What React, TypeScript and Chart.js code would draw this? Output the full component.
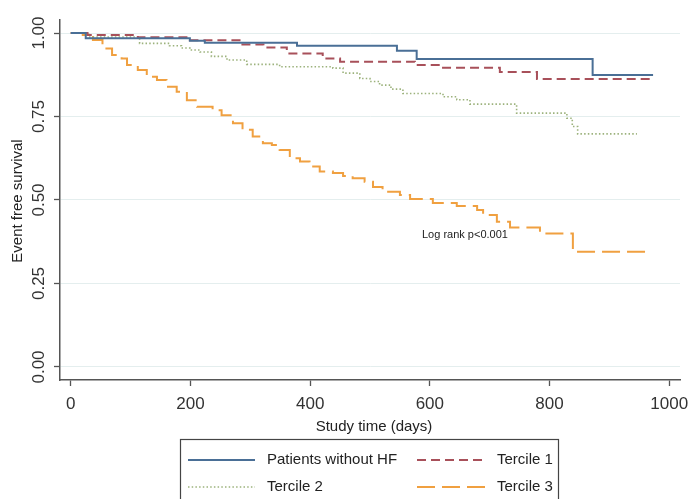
import React, { useEffect, useRef } from 'react';
import { Chart, registerables } from 'chart.js';

Chart.register(...registerables);

const FONT = '"Liberation Sans", Arial, Helvetica, sans-serif';

// Axis ticks
const xTickValues = [0, 200, 400, 600, 800, 1000];
const xTickLabels = ['0', '200', '400', '600', '800', '1000'];
const yTickValues = [0, 0.25, 0.5, 0.75, 1];
const yTickLabels = ['0.00', '0.25', '0.50', '0.75', '1.00'];

const xTitle = 'Study time (days)';
const yTitle = 'Event free survival';
const annotation = 'Log rank p<0.001';

const seriesNames = ['Patients without HF', 'Tercile 1', 'Tercile 2', 'Tercile 3'];

// Kaplan-Meier step curves (day of event, survival after event)
const noHfDays = [0, 25, 199, 224, 378, 545, 578, 872, 973];
const noHfSurv = [1.0, 0.984, 0.977, 0.971, 0.962, 0.947, 0.922, 0.874, 0.874];

const t1Days = [0, 28, 112, 199, 282, 322, 361, 421, 450, 575, 620, 717, 779, 973];
const t1Surv = [1.0, 0.994, 0.987, 0.978, 0.966, 0.957, 0.939, 0.924, 0.914, 0.904, 0.896, 0.883, 0.862, 0.862];

const t2Days = [0, 30, 115, 165, 185, 199, 216, 235, 261, 294, 349, 438, 455, 483, 500, 516, 535, 555, 622, 645, 667, 745, 829, 838, 847, 946];
const t2Surv = [1.0, 0.988, 0.969, 0.962, 0.955, 0.949, 0.943, 0.93, 0.919, 0.906, 0.899, 0.895, 0.88, 0.864, 0.855, 0.844, 0.832, 0.819, 0.809, 0.8, 0.787, 0.76, 0.745, 0.72, 0.698, 0.698];

const t3Days = [0, 20, 37, 53, 69, 85, 94, 112, 127, 144, 160, 177, 194, 211, 237, 252, 271, 287, 304, 321, 336, 349, 366, 383, 399, 416, 438, 455, 471, 491, 505, 521, 550, 567, 605, 645, 679, 689, 712, 734, 784, 839, 971];
const t3Surv = [1.0, 0.994, 0.979, 0.954, 0.934, 0.924, 0.904, 0.889, 0.869, 0.859, 0.839, 0.824, 0.799, 0.779, 0.769, 0.754, 0.73, 0.71, 0.69, 0.67, 0.665, 0.65, 0.625, 0.615, 0.6, 0.585, 0.581, 0.572, 0.565, 0.555, 0.539, 0.525, 0.515, 0.503, 0.491, 0.482, 0.47, 0.455, 0.435, 0.418, 0.4, 0.345, 0.345];

const seriesColors = ['#4a6f96', '#a8505a', '#9cb27c', '#f0a040'];

function toPoints(days: number[], surv: number[]) {
  return days.map((d, i) => ({ x: d, y: surv[i] }));
}

const overlayPlugin = {
  id: 'overlay',
  afterDraw(chart: any) {
    const ctx = chart.ctx as CanvasRenderingContext2D;
    const xs = chart.scales.x;
    const ys = chart.scales.y;
    ctx.save();
    ctx.fillStyle = '#333';

    // y tick labels (rotated)
    ctx.font = `17px ${FONT}`;
    ctx.textAlign = 'center';
    ctx.textBaseline = 'middle';
    yTickValues.forEach((v, i) => {
      const py = ys.getPixelForValue(v);
      ctx.save();
      ctx.translate(39, py);
      ctx.rotate(-Math.PI / 2);
      ctx.fillText(yTickLabels[i], 0, 0);
      ctx.restore();
    });

    // x tick labels
    xTickValues.forEach((v, i) => {
      const px = xs.getPixelForValue(v);
      ctx.fillText(xTickLabels[i], px, 404);
    });

    // axis titles
    ctx.font = `15px ${FONT}`;
    ctx.fillStyle = '#222';
    ctx.fillText(xTitle, 374, 427);
    ctx.save();
    ctx.translate(18, 201);
    ctx.rotate(-Math.PI / 2);
    ctx.fillText(yTitle, 0, 0);
    ctx.restore();

    // annotation
    ctx.font = `11px ${FONT}`;
    ctx.textAlign = 'left';
    ctx.fillStyle = '#222';
    ctx.fillText(annotation, 422, 235);

    // legend box
    ctx.strokeStyle = '#444';
    ctx.lineWidth = 1.2;
    ctx.strokeRect(180.5, 439.5, 378, 80);

    const slots = [
      { x1: 188, x2: 255, tx: 267, y: 460 },
      { x1: 417, x2: 485, tx: 497, y: 460 },
      { x1: 188, x2: 255, tx: 267, y: 487 },
      { x1: 417, x2: 485, tx: 497, y: 487 },
    ];
    ctx.font = `15px ${FONT}`;
    ctx.textBaseline = 'middle';
    chart.data.datasets.forEach((ds: any, i: number) => {
      const s = slots[i];
      ctx.save();
      ctx.strokeStyle = ds.borderColor;
      ctx.lineWidth = ds.borderWidth;
      ctx.setLineDash(ds.borderDash || []);
      ctx.beginPath();
      ctx.moveTo(s.x1, s.y);
      ctx.lineTo(s.x2, s.y);
      ctx.stroke();
      ctx.restore();
      ctx.fillStyle = '#222';
      ctx.fillText(seriesNames[i], s.tx, s.y);
    });
    ctx.restore();
  },
};

export default function App() {
  const canvasRef = useRef<HTMLCanvasElement | null>(null);

  useEffect(() => {
    if (!canvasRef.current) return;
    const chart = new Chart(canvasRef.current, {
      type: 'line',
      data: {
        datasets: [
          {
            label: seriesNames[0],
            data: toPoints(noHfDays, noHfSurv),
            borderColor: seriesColors[0],
            borderWidth: 2,
            borderDash: [],
          },
          {
            label: seriesNames[1],
            data: toPoints(t1Days, t1Surv),
            borderColor: seriesColors[1],
            borderWidth: 2,
            borderDash: [9, 5],
          },
          {
            label: seriesNames[2],
            data: toPoints(t2Days, t2Surv),
            borderColor: seriesColors[2],
            borderWidth: 1.6,
            borderDash: [1.5, 2.2],
          },
          {
            label: seriesNames[3],
            data: toPoints(t3Days, t3Surv),
            borderColor: seriesColors[3],
            borderWidth: 2,
            borderDash: [18, 7],
          },
        ].map((d) => ({ ...d, stepped: true, fill: false, pointRadius: 0, tension: 0 })) as any,
      },
      options: {
        responsive: false,
        animation: false,
        devicePixelRatio: 1,
        parsing: true,
        layout: { padding: { left: 0, top: 20, right: 11, bottom: 0 } },
        plugins: { legend: { display: false }, tooltip: { enabled: false } },
        scales: {
          x: {
            type: 'linear',
            min: -18,
            max: 1018,
            afterBuildTicks: (s: any) => {
              s.ticks = xTickValues.map((v) => ({ value: v }));
            },
            afterFit: (s: any) => {
              s.height = 119;
            },
            ticks: { display: false },
            grid: {
              drawOnChartArea: false,
              drawTicks: true,
              tickLength: 6,
              tickColor: '#555',
              tickWidth: 1.3,
            },
            border: { display: true, color: '#555', width: 1.5 },
          },
          y: {
            type: 'linear',
            min: -0.039,
            max: 1.039,
            afterBuildTicks: (s: any) => {
              s.ticks = yTickValues.map((v) => ({ value: v }));
            },
            afterFit: (s: any) => {
              s.width = 60;
            },
            ticks: { display: false },
            grid: {
              color: '#e4eeee',
              lineWidth: 1,
              drawTicks: true,
              tickLength: 6,
              tickColor: '#555',
              tickWidth: 1.3,
            },
            border: { display: true, color: '#555', width: 1.5 },
          },
        },
      } as any,
      plugins: [overlayPlugin],
    });
    return () => chart.destroy();
  }, []);

  return (
    <div style={{ position: 'absolute', left: 0, top: 0, width: 691, height: 499, background: '#fff' }}>
      <canvas ref={canvasRef} width={691} height={499} style={{ display: 'block', width: 691, height: 499 }} />
    </div>
  );
}
